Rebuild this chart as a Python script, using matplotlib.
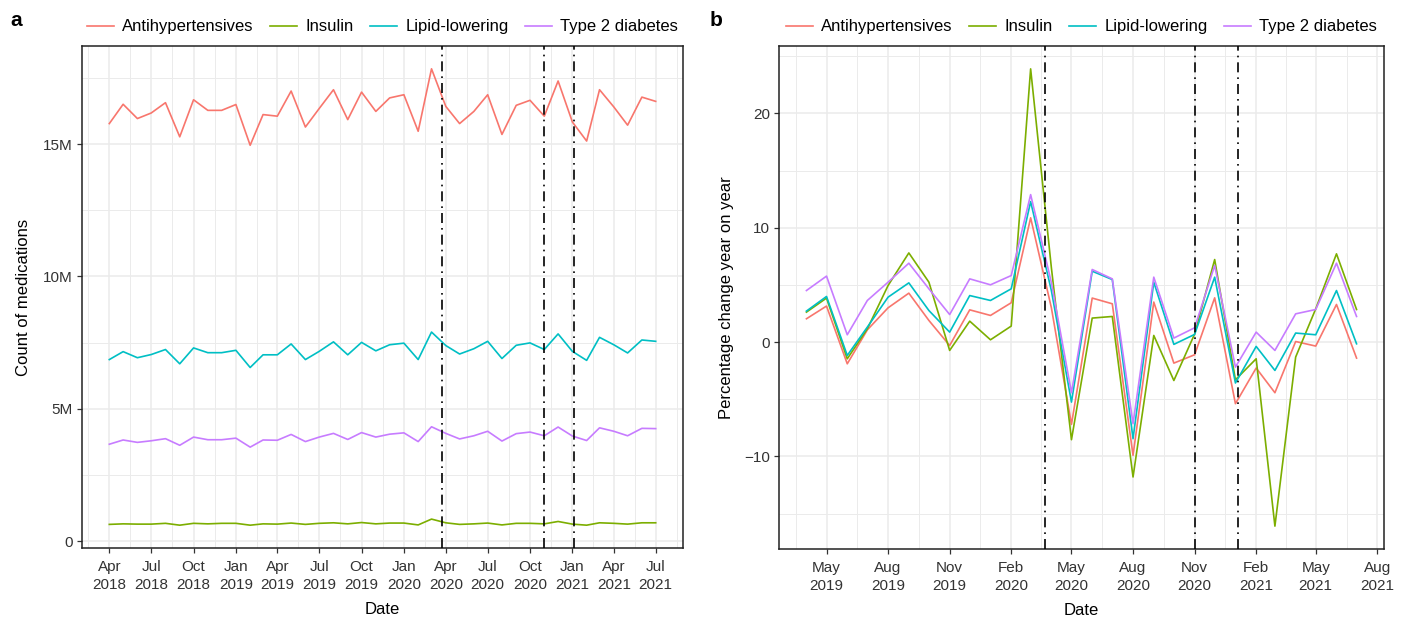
import matplotlib
matplotlib.use("Agg")
import matplotlib.pyplot as plt
import matplotlib.dates as mdates
import matplotlib.ticker as mticker
import pandas as pd
import numpy as np

plt.rcParams['font.family'] = ['Liberation Sans', 'DejaVu Sans']

# ---------------- data ----------------
months_a = pd.date_range('2018-04-01', '2021-07-01', freq='MS')
months_b = pd.date_range('2019-04-01', '2021-07-01', freq='MS')

series_names = ['Antihypertensives', 'Insulin', 'Lipid-lowering', 'Type 2 diabetes']
colors = ['#F8766D', '#7CAE00', '#00BFC4', '#C77CFF']

# counts (millions)
antihypertensives = [15.78, 16.51, 15.97, 16.18, 16.57, 15.28, 16.68, 16.28, 16.28, 16.50, 14.96, 16.12,
                     16.06, 17.01, 15.65, 16.35, 17.06, 15.93, 16.97, 16.24, 16.75, 16.87, 15.49, 17.85,
                     16.43, 15.78, 16.24, 16.87, 15.37, 16.47, 16.66, 16.06, 17.39, 15.84, 15.12, 17.06,
                     16.41, 15.72, 16.78, 16.62]
insulin = [0.63, 0.65, 0.64, 0.64, 0.67, 0.60, 0.67, 0.65, 0.67, 0.67, 0.60, 0.65,
           0.64, 0.68, 0.63, 0.67, 0.69, 0.65, 0.70, 0.65, 0.68, 0.68, 0.61, 0.83,
           0.69, 0.63, 0.65, 0.68, 0.61, 0.67, 0.67, 0.65, 0.74, 0.64, 0.60, 0.69,
           0.67, 0.64, 0.69, 0.69]
lipid_lowering = [6.86, 7.16, 6.93, 7.05, 7.24, 6.70, 7.30, 7.12, 7.12, 7.21, 6.56, 7.04,
                  7.04, 7.45, 6.86, 7.17, 7.53, 7.04, 7.51, 7.19, 7.42, 7.48, 6.86, 7.90,
                  7.39, 7.07, 7.27, 7.55, 6.90, 7.40, 7.49, 7.24, 7.83, 7.17, 6.83, 7.70,
                  7.42, 7.11, 7.60, 7.55]
type2_diabetes = [3.66, 3.82, 3.73, 3.79, 3.87, 3.62, 3.93, 3.83, 3.83, 3.89, 3.55, 3.82,
                  3.81, 4.03, 3.76, 3.93, 4.07, 3.84, 4.10, 3.93, 4.04, 4.09, 3.76, 4.32,
                  4.07, 3.86, 3.98, 4.15, 3.78, 4.06, 4.12, 3.98, 4.31, 3.97, 3.80, 4.28,
                  4.15, 3.98, 4.26, 4.25]

# year-on-year percentage change
yoy_antihypertensives = [2.04, 3.15, -1.90, 1.07, 3.00, 4.28, 1.89, -0.30, 2.82, 2.33, 3.44, 10.87,
                         3.00, -7.20, 3.85, 3.35, -9.91, 3.50, -1.84, -1.11, 3.87, -5.39, -2.27, -4.43,
                         0.05, -0.35, 3.29, -1.40]
yoy_insulin = [2.62, 3.85, -1.46, 1.16, 4.95, 7.80, 5.24, -0.73, 1.83, 0.20, 1.40, 23.90,
               6.50, -8.54, 2.10, 2.24, -11.80, 0.58, -3.36, 0.70, 7.22, -3.30, -1.46, -16.10,
               -1.31, 2.91, 7.72, 2.85]
yoy_lipid_lowering = [2.71, 3.99, -1.17, 1.31, 3.93, 5.18, 2.76, 0.87, 4.07, 3.64, 4.66, 12.29,
                      4.50, -5.25, 6.20, 5.47, -8.45, 5.24, -0.20, 0.67, 5.68, -3.58, -0.38, -2.48,
                      0.79, 0.64, 4.51, -0.15]
yoy_type2_diabetes = [4.51, 5.77, 0.64, 3.64, 5.24, 6.90, 4.66, 2.41, 5.53, 5.01, 5.82, 12.90,
                      5.20, -4.43, 6.35, 5.53, -7.14, 5.68, 0.35, 1.25, 6.70, -2.19, 0.87, -0.73,
                      2.47, 2.85, 6.90, 2.24]

lockdown_dates = pd.to_datetime(['2020-03-23', '2020-11-01', '2021-01-05'])

ticks_a = pd.date_range('2018-04-01', '2021-07-01', freq='3MS')
ticks_b = pd.date_range('2019-05-01', '2021-08-01', freq='3MS')

counts = [antihypertensives, insulin, lipid_lowering, type2_diabetes]
yoys = [yoy_antihypertensives, yoy_insulin, yoy_lipid_lowering, yoy_type2_diabetes]

# ---------------- figure ----------------
W, H = 1406, 622
fig = plt.figure(figsize=(W / 100, H / 100), dpi=100)

def fx(px):
    return px / W

def fy(py):
    return 1 - py / H

ax_a = fig.add_axes([fx(82), fy(548), fx(683 - 82), (548 - 46) / H])
ax_b = fig.add_axes([fx(779), fy(549), fx(1384 - 779), (549 - 46) / H])

grid_col = '#EBEBEB'
tick_col = '#333333'


def style(ax, ticks, minor_ticks):
    ax.set_facecolor('white')
    ax.set_xticks(ticks)
    ax.set_xticks(minor_ticks, minor=True)
    ax.grid(True, which='major', color=grid_col, linewidth=1.1, zorder=0)
    ax.grid(True, which='minor', color=grid_col, linewidth=0.7, zorder=0)
    ax.set_axisbelow(True)
    for s in ax.spines.values():
        s.set_color('#222222')
        s.set_linewidth(1.1)
    ax.tick_params(axis='both', which='major', direction='out', length=3.5, width=0.9,
                   color='#333333', labelsize=11, labelcolor=tick_col)
    ax.tick_params(axis='x', which='major', pad=5)
    ax.tick_params(axis='y', which='major', pad=3)
    ax.tick_params(axis='both', which='minor', length=0)


def mid_dates(ticks):
    t = list(ticks)
    mids = []
    for i in range(len(t) - 1):
        mids.append(t[i] + (t[i + 1] - t[i]) / 2)
    mids.insert(0, t[0] - (t[1] - t[0]) / 2)
    mids.append(t[-1] + (t[-1] - t[-2]) / 2)
    return mids

# ----- panel a -----
for name, vals, c in zip(series_names, counts, colors):
    ax_a.plot(months_a, np.array(vals) * 1e6, color=c, lw=1.2, label=name, zorder=3)
for d in lockdown_dates:
    ax_a.axvline(d, color='black', lw=1.2, linestyle=(0, (6, 3, 1, 3)), zorder=4)
ax_a.margins(x=0.05, y=0.05)
style(ax_a, ticks_a, mid_dates(ticks_a))
ax_a.set_xticklabels([d.strftime('%b\n%Y') for d in ticks_a], linespacing=1.4)
ax_a.yaxis.set_major_locator(mticker.FixedLocator([0, 5e6, 10e6, 15e6]))
ax_a.yaxis.set_minor_locator(mticker.FixedLocator([2.5e6, 7.5e6, 12.5e6, 17.5e6]))
ax_a.yaxis.set_major_formatter(mticker.FuncFormatter(lambda v, p: '0' if v == 0 else f'{v/1e6:.0f}M'))
ax_a.set_xlabel('Date', fontsize=12, labelpad=7)
ax_a.set_ylabel('Count of medications', fontsize=12, labelpad=9)
ax_a.legend(loc='lower center', bbox_to_anchor=(0.5, 1.0), ncol=4, frameon=False, fontsize=12,
            handlelength=1.6, columnspacing=1.0, handletextpad=0.5, borderaxespad=0.3)

# ----- panel b -----
for name, vals, c in zip(series_names, yoys, colors):
    ax_b.plot(months_b, vals, color=c, lw=1.2, label=name, zorder=3)
for d in lockdown_dates:
    ax_b.axvline(d, color='black', lw=1.2, linestyle=(0, (6, 3, 1, 3)), zorder=4)
ax_b.margins(x=0.05, y=0.05)
style(ax_b, ticks_b, mid_dates(ticks_b))
ax_b.set_xlim(mdates.date2num(months_b[0]) - 41, mdates.date2num(months_b[-1]) + 41)
ax_b.set_xticklabels([d.strftime('%b\n%Y') for d in ticks_b], linespacing=1.4)
ax_b.yaxis.set_major_locator(mticker.FixedLocator([-10, 0, 10, 20]))
ax_b.yaxis.set_minor_locator(mticker.FixedLocator([-15, -5, 5, 15, 25]))
ax_b.yaxis.set_major_formatter(mticker.FuncFormatter(lambda v, p: f'{v:.0f}'.replace('-', '\u2212')))
ax_b.set_xlabel('Date', fontsize=12, labelpad=7)
ax_b.set_ylabel('Percentage change year on year', fontsize=12, labelpad=7)
ax_b.legend(loc='lower center', bbox_to_anchor=(0.5, 1.0), ncol=4, frameon=False, fontsize=12,
            handlelength=1.6, columnspacing=1.0, handletextpad=0.5, borderaxespad=0.3)

fig.text(fx(10), fy(20), 'a', fontsize=15, fontweight='bold', va='center', ha='left')
fig.text(fx(710), fy(20), 'b', fontsize=15, fontweight='bold', va='center', ha='left')

fig.savefig('out.png', dpi=100, facecolor='white')
